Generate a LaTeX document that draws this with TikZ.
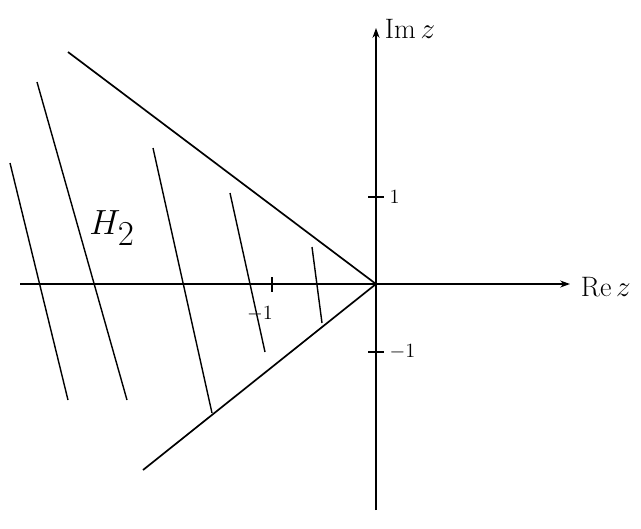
\documentclass[tikz,border=0pt]{standalone}
\usepackage{amsmath,amssymb}
\usepackage{xcolor}
\usetikzlibrary{calc,arrows.meta}

\begin{document}
\begin{tikzpicture}[x=0.25mm,y=-0.25mm,
	axe/.style={line width=1.3pt,-{Stealth[length=7pt,width=5pt]}},
	bord/.style={line width=1.2pt},
	hachure/.style={line width=1pt},
	graduation/.style={line width=1.2pt}]
	\useasboundingbox (0,0) rectangle (641,528);
	\coordinate (O) at (376,284);
	\coordinate (xg) at (20,284);
	\coordinate (xd) at (570,284);
	\coordinate (yb) at (376,510);
	\coordinate (yh) at (376,28);
	% axes
	\draw[axe] (xg) -- (xd);
	\draw[axe] (yb) -- (yh);
	\node[anchor=west,font=\fontsize{20}{24}\selectfont] (re) at (576,287) {Re\,$z$};
	\node[anchor=west,font=\fontsize{20}{24}\selectfont] (im) at (380,29) {Im\,$z$};
	% graduations
	\foreach \pos/\nom/\lab in {197/yun/$1$, 352/ymun/$-1$}
		{\draw[graduation] (368,\pos) -- (384,\pos) node[right] (\nom) {\fontsize{15}{18}\selectfont\lab};}
	\draw[graduation] (272,277) -- (272,292);
	\node[font=\fontsize{15}{18}\selectfont] (xmun) at (260,314) {$-1$};
	% bords du secteur
	\coordinate (A) at (68,52);
	\coordinate (B) at (143,470);
	\draw[bord] (A) -- (O) -- (B);
	% hachures
	\foreach \xa/\ya/\xb/\yb in
	{10/163/68/400,
	37/82/127/400,
	153/148/212/413,
	230/193/265/352,
	312/247/322/323}
		{\draw[hachure] (\xa,\ya) -- (\xb,\yb);}
	\node[font=\fontsize{40}{44}\selectfont] (H) at (112,228) {$H_2$};
\end{tikzpicture}
\end{document}
